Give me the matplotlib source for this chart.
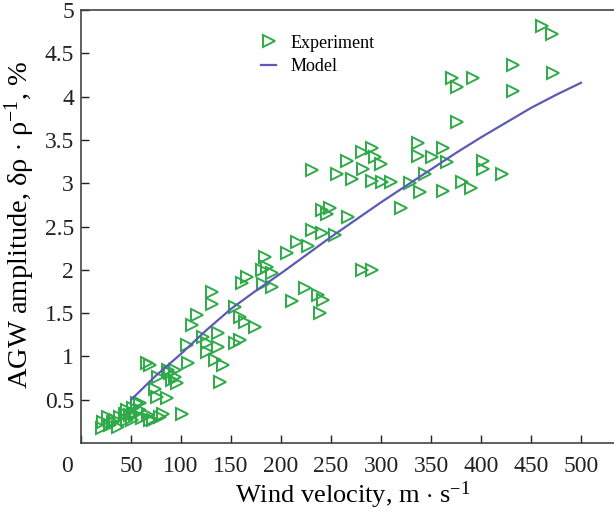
import numpy as np
import matplotlib
matplotlib.use('Agg')
import matplotlib.pyplot as plt
from matplotlib.transforms import ScaledTranslation

plt.rcParams['font.family'] = ['Liberation Serif', 'DejaVu Serif']
plt.rcParams['mathtext.fontset'] = 'custom'
plt.rcParams['mathtext.rm'] = 'Liberation Serif'
plt.rcParams['mathtext.it'] = 'Liberation Serif:italic'

# experiment points (wind velocity m/s, amplitude %)
exp_v = [461, 471, 432, 472, 432, 371, 376, 392, 376, 337, 337, 351, 362, 366,
         402, 402, 421, 344, 329, 339, 362, 381, 390, 291, 294, 300, 282, 291,
         301, 310, 320, 281, 266, 231, 256, 271, 241, 249, 246, 267, 231, 241,
         254, 206, 216, 227, 184, 186, 191, 166, 161, 182, 191, 181, 281, 291,
         224, 211, 237, 242, 239, 154, 159, 164, 174, 131, 131, 154, 159, 116,
         111, 122, 137, 126, 126, 137, 106, 107, 134, 142, 139, 66, 69, 77,
         87, 89, 91, 94, 96, 94, 74, 76, 86, 82, 79, 101, 69, 61, 54, 56,
         49, 44, 39, 34, 29, 22, 21, 27, 37, 46, 51, 59, 67, 32, 46, 52, 59, 72]
exp_amp = [4.82, 4.72, 4.36, 4.27, 4.07, 4.21, 4.11, 4.21, 3.71, 3.46, 3.31, 3.30, 3.41, 3.25,
           3.26, 3.16, 3.11, 3.11, 3.00, 2.90, 2.91, 3.01, 2.95, 3.41, 3.30, 3.22, 3.17, 3.03,
           3.01, 3.01, 2.71, 3.36, 3.26, 3.15, 3.11, 3.05, 2.69, 2.71, 2.65, 2.61, 2.46, 2.42,
           2.40, 2.20, 2.32, 2.28, 2.15, 2.03, 1.96, 1.92, 1.85, 1.84, 1.80, 2.00, 2.00, 2.00,
           1.79, 1.64, 1.71, 1.65, 1.50, 1.57, 1.45, 1.40, 1.34, 1.74, 1.61, 1.16, 1.19, 1.48,
           1.36, 1.22, 1.27, 1.15, 1.05, 1.11, 1.13, 0.92, 0.96, 0.90, 0.70, 0.93, 0.90, 0.76,
           0.84, 0.81, 0.73, 0.76, 0.69, 0.84, 0.63, 0.53, 0.52, 0.34, 0.30, 0.34, 0.27, 0.29, 0.34, 0.46,
           0.32, 0.34, 0.30, 0.27, 0.21, 0.24, 0.17, 0.30, 0.19, 0.27, 0.27, 0.38, 0.32, 0.24, 0.38, 0.40, 0.46, 0.27]

# model curve, read every 25 m/s
model_v = [50, 75, 100, 125, 150, 175, 200, 225, 250, 275, 300, 325, 350, 375, 400, 425, 450, 475, 500]
model_amp = [0.50, 0.78, 1.03, 1.30, 1.55, 1.76, 1.96, 2.17, 2.38, 2.58, 2.78, 2.97, 3.16,
             3.35, 3.53, 3.70, 3.87, 4.02, 4.16]

xticks = [0, 50, 100, 150, 200, 250, 300, 350, 400, 450, 500]
yticks = [0.5, 1, 1.5, 2, 2.5, 3, 3.5, 4, 4.5, 5]

fig = plt.figure(figsize=(6.14, 5.14), dpi=100)
ax = fig.add_axes([0.132, 0.138, 0.868, 0.8425])

ax.plot(model_v, model_amp, color='#5b5bb5', lw=1.6, label='Model', zorder=3)
ax.plot(exp_v, exp_amp, ls='none', marker='>', ms=9, mfc='none', mec='#2eaa48',
        mew=1.4, label='Experiment', zorder=2)

ax.set_xlim(0, 533)
ax.set_ylim(0, 5)
ax.set_xticks(xticks)
ax.set_yticks(yticks)
ax.set_xticklabels([str(t) for t in xticks])
ax.set_yticklabels(['{:g}'.format(t) for t in yticks])
ax.tick_params(direction='in', length=6, width=1, labelsize=17, colors='#222222')
ax.tick_params(axis='x', pad=9)
ax.tick_params(axis='y', pad=5)

# the zero label sits left of the corner
lbl0 = ax.get_xticklabels()[0]
lbl0.set_transform(lbl0.get_transform() + ScaledTranslation(-0.14, 0, fig.dpi_scale_trans))

for s in ['left', 'bottom', 'top']:
    ax.spines[s].set_color('#444444')
    ax.spines[s].set_linewidth(1.2)
ax.spines['right'].set_visible(False)

ax.set_xlabel(r'Wind velocity, m $\cdot$ s$^{-1}$', fontsize=19)
ax.set_ylabel(r'AGW amplitude, δρ $\cdot$ ρ$^{-1}$, %', fontsize=20.5)
ax.xaxis.set_label_coords(0.51, -0.083)
ax.yaxis.set_label_coords(-0.083, 0.505)

handles, labels = ax.get_legend_handles_labels()
ax.legend(handles[::-1], labels[::-1], loc='upper left', bbox_to_anchor=(0.325, 0.96),
          frameon=False, fontsize=13, handlelength=0.8, handletextpad=0.8,
          labelspacing=0.35, borderaxespad=0)

fig.savefig('out.png', dpi=100)
